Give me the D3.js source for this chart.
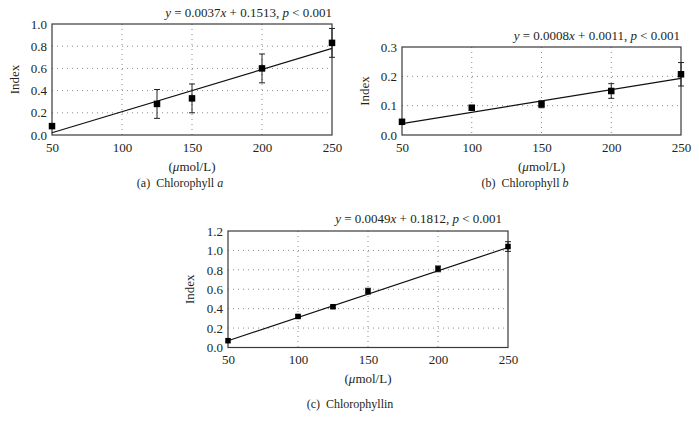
<!DOCTYPE html>
<html>
<head>
<meta charset="utf-8">
<script src="https://cdn.jsdelivr.net/npm/d3@7"></script>
<style>
  html, body { margin: 0; padding: 0; background: #fff; }
  svg { display: block; }
  text { font-family: "Liberation Serif", "DejaVu Serif", serif; fill: #231f20; }
</style>
</head>
<body>
<svg id="chart" width="699" height="432"></svg>
<script>
// ---------- data ----------
const xTicks = [50, 100, 150, 200, 250];

const aX   = [50, 125, 150, 200, 250];
const aY   = [0.08, 0.28, 0.33, 0.60, 0.83];
const aErr = [0, 0.13, 0.13, 0.13, 0.13];
const aFit = [0.02, 0.78];           // fitted line value at x = 50 and x = 250
const aYTicks = [0, 0.2, 0.4, 0.6, 0.8, 1.0];
const aEq = "0.0037x + 0.1513";

const bX   = [50, 100, 150, 200, 250];
const bY   = [0.045, 0.093, 0.105, 0.150, 0.207];
const bErr = [0, 0, 0.012, 0.025, 0.04];
const bFit = [0.039, 0.193];
const bYTicks = [0, 0.1, 0.2, 0.3];
const bEq = "0.0008x + 0.0011";

const cX   = [50, 100, 125, 150, 200, 250];
const cY   = [0.07, 0.32, 0.42, 0.58, 0.81, 1.04];
const cErr = [0, 0.015, 0.015, 0.03, 0.03, 0.05];
const cFit = [0.07, 1.03];
const cYTicks = [0, 0.2, 0.4, 0.6, 0.8, 1.0, 1.2];
const cEq = "0.0049x + 0.1812";

const captions = [["(a)", "Chlorophyll ", "a"], ["(b)", "Chlorophyll ", "b"], ["(c)", "Chlorophyllin", ""]];

// ---------- layout ----------
const panels = [
  { xs: aX, ys: aY, err: aErr, fit: aFit, yTicks: aYTicks, eq: aEq, cap: captions[0],
    box: { l: 52, r: 332, t: 24, b: 135 }, eqX: 332, eqY: 17, xLabY: 171, capY: 187, capX: 180, idxX: 19, tickY: 152 },
  { xs: bX, ys: bY, err: bErr, fit: bFit, yTicks: bYTicks, eq: bEq, cap: captions[1],
    box: { l: 402, r: 681, t: 47, b: 135 }, eqX: 680, eqY: 40, xLabY: 171, capY: 187, capX: 525, idxX: 369, tickY: 152 },
  { xs: cX, ys: cY, err: cErr, fit: cFit, yTicks: cYTicks, eq: cEq, cap: captions[2],
    box: { l: 228, r: 508, t: 231, b: 347.5 }, eqX: 502, eqY: 223, xLabY: 383, capY: 408, capX: 350, idxX: 194, tickY: 364 }
];

const svg = d3.select("#chart");
const FS = 13;

panels.forEach((p, i) => {
  const B = p.box;
  const x = d3.scaleLinear().domain([50, 250]).range([B.l, B.r]);
  const y = d3.scaleLinear().domain([0, d3.max(p.yTicks)]).range([B.b, B.t]);
  const g = svg.append("g");

  // grid (dotted)
  g.selectAll("line.vg").data(xTicks.slice(1, -1)).join("line")
    .attr("x1", d => x(d)).attr("x2", d => x(d)).attr("y1", B.t).attr("y2", B.b)
    .attr("stroke", "#8a8a8a").attr("stroke-width", 1).attr("stroke-dasharray", "1,4");
  g.selectAll("line.hg").data(p.yTicks.slice(1, -1)).join("line")
    .attr("x1", B.l).attr("x2", B.r).attr("y1", d => y(d)).attr("y2", d => y(d))
    .attr("stroke", "#8a8a8a").attr("stroke-width", 1).attr("stroke-dasharray", "1,4");

  // axes (labels only, via d3 axis)
  const xAxis = d3.axisBottom(x).tickValues(xTicks).tickSize(0).tickPadding(0).tickFormat(d3.format("d"));
  const xa = g.append("g").attr("transform", `translate(0,${p.tickY})`).call(xAxis);
  xa.select(".domain").remove();
  xa.selectAll("text").attr("dy", 0).attr("y", 0).style("font-size", FS + "px")
    .style("font-family", '"Liberation Serif", serif').attr("fill", "#231f20");

  const yAxis = d3.axisLeft(y).tickValues(p.yTicks).tickSize(0).tickPadding(5).tickFormat(d3.format(".1f"));
  const ya = g.append("g").attr("transform", `translate(${B.l},0)`).call(yAxis);
  ya.select(".domain").remove();
  ya.selectAll("text").style("font-size", FS + "px")
    .style("font-family", '"Liberation Serif", serif').attr("fill", "#231f20");

  // frame
  g.append("rect").attr("x", B.l).attr("y", B.t).attr("width", B.r - B.l).attr("height", B.b - B.t)
    .attr("fill", "none").attr("stroke", "#3a3a3a").attr("stroke-width", 1.2);

  // fit line
  g.append("line")
    .attr("x1", x(50)).attr("y1", y(p.fit[0]))
    .attr("x2", x(250)).attr("y2", y(p.fit[1]))
    .attr("stroke", "#111").attr("stroke-width", 1.2);

  const pts = p.xs.map((d, k) => ({ x: d, y: p.ys[k], e: p.err[k] }));
  // error bars
  const eg = g.selectAll("g.err").data(pts.filter(d => d.e > 0)).join("g");
  eg.append("line").attr("x1", d => x(d.x)).attr("x2", d => x(d.x))
    .attr("y1", d => y(d.y - d.e)).attr("y2", d => y(d.y + d.e))
    .attr("stroke", "#222").attr("stroke-width", 1);
  eg.append("line").attr("x1", d => x(d.x) - 3).attr("x2", d => x(d.x) + 3)
    .attr("y1", d => y(d.y - d.e)).attr("y2", d => y(d.y - d.e))
    .attr("stroke", "#222").attr("stroke-width", 1);
  eg.append("line").attr("x1", d => x(d.x) - 3).attr("x2", d => x(d.x) + 3)
    .attr("y1", d => y(d.y + d.e)).attr("y2", d => y(d.y + d.e))
    .attr("stroke", "#222").attr("stroke-width", 1);

  // markers
  const ms = i === 2 ? 5.5 : 6.5;
  g.selectAll("rect.m").data(pts).join("rect")
    .attr("x", d => x(d.x) - ms / 2).attr("y", d => y(d.y) - ms / 2)
    .attr("width", ms).attr("height", ms).attr("fill", "#000");

  // equation
  const eq = g.append("text").attr("x", p.eqX).attr("y", p.eqY).attr("text-anchor", "end").style("font-size", FS + "px");
  const [coef, rest] = p.eq.split("x");
  eq.append("tspan").attr("font-style", "italic").text("y");
  eq.append("tspan").text(" = " + coef);
  eq.append("tspan").attr("font-style", "italic").text("x");
  eq.append("tspan").text(rest + ", ");
  eq.append("tspan").attr("font-style", "italic").text("p");
  eq.append("tspan").text(" < 0.001");

  // y label
  g.append("text").attr("transform", `translate(${p.idxX},${(B.t + B.b) / 2}) rotate(-90)`)
    .attr("text-anchor", "middle").style("font-size", FS + "px").text("Index");

  // x label
  const xl = g.append("text").attr("x", (B.l + B.r) / 2).attr("y", p.xLabY)
    .attr("text-anchor", "middle").style("font-size", FS + "px");
  xl.append("tspan").text("(");
  xl.append("tspan").attr("font-style", "italic").text("μ");
  xl.append("tspan").text("mol/L)");

  // caption
  const cap = g.append("text").attr("x", p.capX).attr("y", p.capY).attr("text-anchor", "middle").style("font-size", "12px");
  cap.append("tspan").text(p.cap[0] + "\u2002" + p.cap[1]);
  if (p.cap[2]) cap.append("tspan").attr("font-style", "italic").text(p.cap[2]);
});
</script>
</body>
</html>
